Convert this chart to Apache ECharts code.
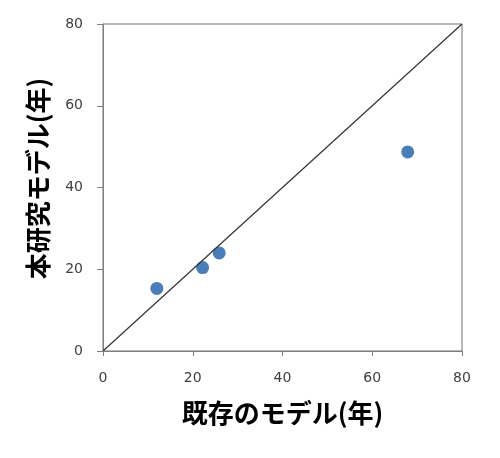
<!DOCTYPE html>
<html>
<head>
<meta charset="utf-8">
<script src="https://cdn.jsdelivr.net/npm/echarts@6/dist/echarts.min.js"></script>
<style>
  html, body { margin: 0; padding: 0; background: #fff; }
  #chart { width: 500px; height: 458px; }
</style>
</head>
<body>
<div id="chart"></div>
<script>
// existing model (x) vs. this study's model (y), years
const existingModel = [12, 22.2, 25.9, 67.9];
const studyModel = [15.3, 20.4, 24.0, 48.7];
const diagonal = [[0, 0], [80, 80]];
const tickValues = [0, 20, 40, 60, 80];

const chart = echarts.init(document.getElementById("chart"));

const labelFont = "'DejaVu Sans', Verdana, sans-serif";
const titleFont = "'Noto Sans CJK JP', sans-serif";

const option = {
  animation: false,
  grid: {
    left: 103,
    right: 38,
    top: 24,
    bottom: 107,
    show: true,
    borderColor: "#6f6f6f",
    borderWidth: 1,
  },
  xAxis: {
    type: "value",
    min: tickValues[0],
    max: tickValues[tickValues.length - 1],
    interval: 20,
    name: "既存のモデル(年)",
    nameLocation: "middle",
    nameGap: 49,
    nameTextStyle: { fontFamily: titleFont, fontSize: 26, fontWeight: "bold", color: "#000" },
    axisLine: { lineStyle: { color: "#7f7f7f" } },
    axisTick: { show: true, length: 5, lineStyle: { color: "#7f7f7f" } },
    axisLabel: { margin: 20, fontFamily: labelFont, fontSize: 14, color: "#404040" },
    splitLine: { show: false },
  },
  yAxis: {
    type: "value",
    min: tickValues[0],
    max: tickValues[tickValues.length - 1],
    interval: 20,
    name: "本研究モデル(年)",
    nameLocation: "middle",
    nameGap: 52,
    nameTextStyle: { fontFamily: titleFont, fontSize: 26, fontWeight: "bold", color: "#000", padding: [0, 0, 0, 18] },
    axisLine: { lineStyle: { color: "#7f7f7f" } },
    axisTick: { show: true, length: 6, lineStyle: { color: "#7f7f7f" } },
    axisLabel: { margin: 20, fontFamily: labelFont, fontSize: 14, color: "#404040" },
    splitLine: { show: false },
  },
  series: [
    {
      type: "line",
      data: diagonal,
      symbol: "none",
      lineStyle: { color: "#333", width: 1.2 },
      silent: true,
    },
    {
      type: "scatter",
      data: existingModel.map((x, i) => [x, studyModel[i]]),
      symbolSize: 13,
      itemStyle: { color: "#4a7ebb", opacity: 1 },
    },
  ],
};

chart.setOption(option);
</script>
</body>
</html>
